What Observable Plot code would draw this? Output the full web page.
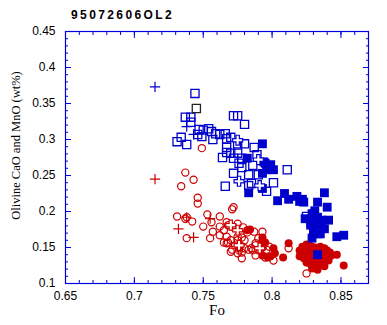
<!DOCTYPE html>
<html>
<head>
<meta charset="utf-8">
<script src="https://cdn.jsdelivr.net/npm/d3@7"></script>
<script src="https://cdn.jsdelivr.net/npm/@observablehq/plot@0.6"></script>
<style>
  html, body { margin: 0; padding: 0; background: #fff; }
  #title { height: 24px; box-sizing: border-box; padding: 9px 0 0 71px; font: bold 12px "Liberation Sans", Arial, sans-serif; letter-spacing: 2.4px; line-height: 12px; color: #000; }
  svg { display: block; }
</style>
</head>
<body>
<div id="title">95072606OL2</div>
<div id="chart"></div>
<script>
const title = "95072606OL2";
const xLabel = "Fo";
const yLabel = "Olivine CaO and MnO (wt%)";
const xTicks = [0.65, 0.7, 0.75, 0.8, 0.85];
const yTicks = [0.1, 0.15, 0.2, 0.25, 0.3, 0.35, 0.4, 0.45];

// Blue open squares (CaO)
const blueOpenSquares = [
  [0.744,0.364],[0.737,0.331],[0.741,0.331],[0.741,0.324],[0.772,0.333],[0.775,0.333],[0.780,0.321],
  [0.734,0.303],[0.731,0.297],[0.738,0.293],[0.747,0.314],[0.750,0.313],[0.754,0.315],[0.756,0.311],
  [0.759,0.308],[0.762,0.307],[0.766,0.308],[0.746,0.307],[0.749,0.304],[0.757,0.300],[0.767,0.301],
  [0.770,0.303],[0.780,0.294],[0.767,0.289],[0.767,0.282],[0.764,0.275],[0.770,0.281],[0.772,0.274],
  [0.775,0.281],[0.778,0.274],[0.776,0.267],[0.778,0.261],[0.772,0.253],[0.783,0.251],[0.766,0.235],
  [0.783,0.236],[0.775,0.294],[0.787,0.289],[0.789,0.279],[0.786,0.264],[0.790,0.251],[0.811,0.258],
  [0.801,0.240],[0.785,0.239],[0.796,0.228],[0.825,0.193]
];
// Dark open square
const blackOpenSquares = [[0.745,0.343]];
// Blue filled squares
const blueFilledSquares = [
  [0.782,0.274],[0.793,0.294],[0.794,0.269],[0.795,0.267],[0.799,0.265],[0.801,0.258],[0.796,0.258],
  [0.793,0.253],[0.783,0.226],[0.793,0.232],[0.804,0.215],[0.809,0.225],[0.812,0.217],[0.818,0.221],
  [0.820,0.214],[0.823,0.213],[0.838,0.226],[0.833,0.213],[0.840,0.206],[0.831,0.201],[0.829,0.197],
  [0.824,0.190],[0.830,0.190],[0.833,0.192],[0.836,0.188],[0.841,0.188],[0.828,0.181],[0.832,0.181],
  [0.836,0.183],[0.830,0.174],[0.838,0.176],[0.835,0.169],[0.833,0.169],[0.829,0.163],[0.847,0.165],
  [0.852,0.167],[0.833,0.140],[0.822,0.217],[0.828,0.185],[0.832,0.186]
];
// Red open circles (MnO)
const redOpenCircles = [
  [0.749,0.288],[0.737,0.254],[0.743,0.244],[0.734,0.235],[0.746,0.219],[0.746,0.211],[0.772,0.206],
  [0.771,0.203],[0.731,0.193],[0.738,0.192],[0.742,0.186],[0.750,0.179],[0.753,0.196],[0.762,0.193],
  [0.756,0.185],[0.757,0.172],[0.755,0.163],[0.738,0.163],[0.767,0.185],[0.762,0.179],[0.765,0.174],
  [0.762,0.167],[0.775,0.183],[0.772,0.178],[0.768,0.181],[0.767,0.165],[0.770,0.160],[0.768,0.157],
  [0.765,0.157],[0.775,0.165],[0.775,0.160],[0.773,0.153],[0.777,0.153],[0.780,0.160],[0.783,0.147],
  [0.780,0.149],[0.776,0.146],[0.770,0.144],[0.775,0.142],[0.778,0.135],[0.787,0.172],[0.790,0.163],
  [0.788,0.156],[0.786,0.146],[0.790,0.146],[0.796,0.147],[0.798,0.151],[0.793,0.172],[0.782,0.171],
  [0.801,0.132],[0.812,0.149],[0.825,0.114],[0.737,0.190],[0.778,0.164],[0.767,0.156],
  [0.776,0.149],[0.785,0.149],[0.771,0.147],[0.779,0.178],[0.788,0.153],[0.788,0.139],[0.795,0.136],
  [0.778,0.143]
];
// Red filled circles
const redFilledCircles = [
  [0.782,0.174],[0.784,0.175],[0.793,0.164],[0.793,0.160],[0.793,0.150],[0.795,0.157],[0.801,0.149],
  [0.802,0.142],[0.799,0.138],[0.808,0.136],[0.812,0.156],[0.793,0.139],[0.797,0.136],[0.847,0.140],
  [0.852,0.125],[0.833,0.119],
  [0.820,0.146],[0.822,0.151],[0.825,0.154],[0.827,0.153],[0.829,0.151],[0.831,0.150],[0.833,0.149],
  [0.836,0.147],[0.838,0.149],[0.840,0.146],[0.842,0.143],[0.822,0.140],[0.824,0.143],[0.826,0.146],
  [0.829,0.143],[0.830,0.142],[0.833,0.140],[0.835,0.140],[0.837,0.139],[0.839,0.138],[0.841,0.136],
  [0.843,0.139],[0.823,0.135],[0.825,0.136],[0.828,0.136],[0.830,0.133],[0.832,0.133],[0.834,0.135],
  [0.836,0.132],[0.838,0.131],[0.841,0.132],[0.825,0.129],[0.827,0.128],[0.829,0.126],[0.831,0.129],
  [0.833,0.128],[0.836,0.126],[0.838,0.124],[0.829,0.121],[0.820,0.138],[0.832,0.147],[0.835,0.151]
];
// Thin plus markers
const bluePlus = [[0.715,0.373],[0.738,0.318],[0.743,0.307]];
const redPlus = [[0.715,0.245],[0.732,0.176],[0.743,0.164],[0.738,0.192],[0.755,0.190]];
// Outlined cross markers
const blueCross = [[0.775,0.299],[0.776,0.242],[0.790,0.272],[0.791,0.236]];
const redCross = [[0.770,0.181],[0.775,0.174],[0.776,0.153],[0.791,0.149]];

const BLUE = "#0000cc";
const FRAME = "#0000dd";
const RED = "#cc0000";
const fmt = d => String(+d.toFixed(2));
const xMinor = d3.range(65, 88).map(v => v / 100);
const yMinor = d3.range(10, 46).map(v => v / 100);
const px = d => d[0], py = d => d[1];

const chart = Plot.plot({
  width: 387,
  height: 301,
  marginTop: 7,
  marginBottom: 42,
  marginLeft: 65,
  marginRight: 19,
  x: {domain: [0.65, 0.87]},
  y: {domain: [0.1, 0.45]},
  style: {fontFamily: "Liberation Sans, Arial, sans-serif", fontSize: "12px", background: "white", color: "black"},
  marks: [
    Plot.axisX({anchor: "bottom", ticks: xTicks, tickSize: 0, tickPadding: 8, tickFormat: fmt, label: null}),
    Plot.axisY({anchor: "left", ticks: yTicks, tickSize: 0, tickPadding: 10, tickFormat: fmt, label: null}),
    Plot.axisX({anchor: "bottom", ticks: xMinor, tickSize: -3, tickFormat: () => "", label: null, stroke: FRAME}),
    Plot.axisX({anchor: "bottom", ticks: xTicks, tickSize: -6, tickFormat: () => "", label: null, stroke: FRAME}),
    Plot.axisX({anchor: "top", ticks: xMinor, tickSize: -3, tickFormat: () => "", label: null, stroke: FRAME}),
    Plot.axisX({anchor: "top", ticks: xTicks, tickSize: -6, tickFormat: () => "", label: null, stroke: FRAME}),
    Plot.axisY({anchor: "left", ticks: yMinor, tickSize: -3, tickFormat: () => "", label: null, stroke: FRAME}),
    Plot.axisY({anchor: "left", ticks: yTicks, tickSize: -6, tickFormat: () => "", label: null, stroke: FRAME}),
    Plot.axisY({anchor: "right", ticks: yMinor, tickSize: -3, tickFormat: () => "", label: null, stroke: FRAME}),
    Plot.axisY({anchor: "right", ticks: yTicks, tickSize: -6, tickFormat: () => "", label: null, stroke: FRAME}),
    Plot.frame({stroke: FRAME, strokeWidth: 1.2}),
    Plot.text([xLabel], {frameAnchor: "bottom", dy: 31, fontFamily: "Liberation Serif, Times New Roman, serif", fontSize: 15}),
    Plot.text([yLabel], {frameAnchor: "left", textAnchor: "middle", rotate: -90, dx: -50, dy: -12, fontFamily: "Liberation Serif, Times New Roman, serif", fontSize: 12.5}),
    Plot.dot(blueOpenSquares, {x: px, y: py, symbol: "square", r: 4.6, stroke: BLUE, strokeWidth: 1.3, fill: "none"}),
    Plot.dot(blackOpenSquares, {x: px, y: py, symbol: "square", r: 4.6, stroke: "#222", strokeWidth: 1.3, fill: "none"}),
    Plot.dot(redOpenCircles, {x: px, y: py, symbol: "circle", r: 3.6, stroke: RED, strokeWidth: 1.2, fill: "none"}),
    Plot.dot(redFilledCircles, {x: px, y: py, symbol: "circle", r: 4, fill: RED, stroke: "none"}),
    Plot.dot(blueFilledSquares, {x: px, y: py, symbol: "square", r: 5, fill: BLUE, stroke: "none"}),
    Plot.dot(blueCross, {x: px, y: py, symbol: "cross", r: 4.2, fill: "white", stroke: BLUE, strokeWidth: 1.2}),
    Plot.dot(redCross, {x: px, y: py, symbol: "cross", r: 4.2, fill: "white", stroke: RED, strokeWidth: 1.2}),
    Plot.dot(bluePlus, {x: px, y: py, symbol: "plus", r: 3.4, stroke: BLUE, strokeWidth: 1.2}),
    Plot.dot(redPlus, {x: px, y: py, symbol: "plus", r: 3.4, stroke: RED, strokeWidth: 1.2})
  ]
});
document.getElementById("chart").appendChild(chart);
</script>
</body>
</html>
